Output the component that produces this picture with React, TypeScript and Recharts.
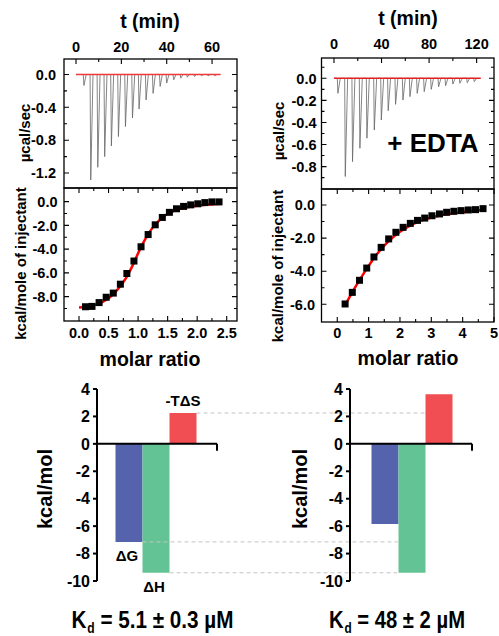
import React from 'react';
import {
  ComposedChart,
  Line,
  Scatter,
  Bar,
  Cell,
  XAxis,
  YAxis,
  ReferenceLine,
  LabelList,
} from 'recharts';

const FONT = "'Liberation Sans', Arial, Helvetica, sans-serif";

// ---- left experiment: raw heat pulses (t in min, µcal/sec peak) ----
const tlInjTime = [3.2, 6.2, 9.3, 12.35, 15.3, 18.4, 21.5, 24.6, 27.5, 30.6, 33.7, 36.8, 39.7, 42.8, 45.9, 48.8, 51.9, 55.0, 57.9, 60.9];
const tlPeak = [-0.134, -1.284, -1.13, -1.0, -0.87, -0.756, -0.634, -0.53, -0.42, -0.31, -0.23, -0.146, -0.105, -0.065, -0.045, -0.033, -0.024, -0.016, -0.016, -0.016];
const tlBaseline = [0, 63.8];

// ---- left experiment: integrated heats ----
const blRatio = [0.11, 0.22, 0.34, 0.46, 0.58, 0.7, 0.81, 0.93, 1.05, 1.17, 1.29, 1.41, 1.53, 1.65, 1.77, 1.89, 2.01, 2.13, 2.25, 2.37];
const blHeat = [-8.85, -8.82, -8.5, -8.05, -7.7, -6.95, -6.05, -5.0, -3.8, -2.77, -1.95, -1.33, -0.9, -0.6, -0.4, -0.27, -0.18, -0.08, -0.02, -0.02];
const blFitX = [0, 0.2, 0.4, 0.6, 0.7, 0.8, 0.9, 1.0, 1.1, 1.2, 1.3, 1.4, 1.5, 1.6, 1.8, 2.0, 2.2, 2.4];
const blFitY = [-8.92, -8.8, -8.45, -7.7, -7.1, -6.4, -5.45, -4.35, -3.35, -2.5, -1.88, -1.4, -1.02, -0.78, -0.5, -0.34, -0.24, -0.17];

// ---- + EDTA: raw heat pulses ----
const trInjTime = [2.8, 9.0, 15.1, 21.3, 27.2, 33.4, 39.3, 45.1, 51.3, 57.5, 63.4, 69.5, 75.4, 81.3, 87.5, 93.4, 99.5, 105.4, 111.6, 117.5];
const trPeak = [-0.136, -0.89, -0.755, -0.634, -0.543, -0.468, -0.378, -0.293, -0.236, -0.197, -0.166, -0.136, -0.121, -0.1, -0.076, -0.067, -0.052, -0.045, -0.04, -0.031];
const trBaseline = [0, 123.5];

// ---- + EDTA: integrated heats ----
const brRatio = [0.25, 0.48, 0.71, 0.94, 1.17, 1.4, 1.64, 1.87, 2.1, 2.33, 2.56, 2.79, 3.02, 3.26, 3.49, 3.72, 3.95, 4.18, 4.41, 4.65];
const brHeat = [-5.98, -5.28, -4.55, -3.81, -3.14, -2.56, -2.05, -1.65, -1.35, -1.11, -0.93, -0.79, -0.65, -0.54, -0.44, -0.38, -0.34, -0.3, -0.28, -0.22];
const brFitX = [0.25, 0.5, 0.75, 1.0, 1.25, 1.5, 1.75, 2.0, 2.25, 2.5, 2.75, 3.0, 3.5, 4.0, 4.5, 4.65];
const brFitY = [-6.05, -5.2, -4.42, -3.68, -3.0, -2.45, -2.0, -1.62, -1.32, -1.08, -0.9, -0.76, -0.56, -0.42, -0.32, -0.29];

// ---- thermodynamic signature ----
const energyNames = ['ΔG', 'ΔH', '-TΔS'];
const energyColors = ['#5563ad', '#64c394', '#f04e52'];
const leftEnergy = [-7.15, -9.4, 2.25];
const rightEnergy = [-5.85, -9.4, 3.62];
const energyTicks = [-10, -8, -6, -4, -2, 0, 2, 4];

// ---- axis ticks ----
const tlTimeTicks = [0, 10, 20, 30, 40, 50, 60];
const tlTimeMajor = [0, 20, 40, 60];
const tlRateTicks = [0, -0.2, -0.4, -0.6, -0.8, -1.0, -1.2];
const tlRateMajor = [0, -0.4, -0.8, -1.2];
const blRatioTicks = [0, 0.25, 0.5, 0.75, 1, 1.25, 1.5, 1.75, 2, 2.25, 2.5];
const blRatioMajor = [0, 0.5, 1, 1.5, 2, 2.5];
const blHeatTicks = [0, -1, -2, -3, -4, -5, -6, -7, -8, -9];
const blHeatMajor = [0, -2, -4, -6, -8];
const trTimeTicks = [0, 20, 40, 60, 80, 100, 120];
const trTimeMajor = [0, 40, 80, 120];
const trRateTicks = [0.1, 0, -0.1, -0.2, -0.3, -0.4, -0.5, -0.6, -0.7, -0.8, -0.9];
const trRateMajor = [0, -0.2, -0.4, -0.6, -0.8];
const brRatioTicks = [0, 0.5, 1, 1.5, 2, 2.5, 3, 3.5, 4, 4.5, 5];
const brRatioMajor = [0, 1, 2, 3, 4, 5];
const brHeatTicks = [0, -1, -2, -3, -4, -5, -6];
const brHeatMajor = [0, -2, -4, -6];

const traceOf = (times: number[], peaks: number[], dPeak: number, dBack: number) => {
  const pts = [{ x: 0, v: 0 }];
  times.forEach((t, i) => {
    pts.push({ x: t, v: 0 }, { x: t + dPeak, v: peaks[i] }, { x: t + dBack, v: 0 });
  });
  return pts;
};
const pairs = (xs: number[], ys: number[]) => xs.map((x, i) => ({ x, v: ys[i] }));

const tlTrace = traceOf(tlInjTime, tlPeak, 0.3, 1.3);
const tlBase = tlBaseline.map((x) => ({ x, v: 0 }));
const blPoints = pairs(blRatio, blHeat);
const blFit = pairs(blFitX, blFitY);
const trTrace = traceOf(trInjTime, trPeak, 0.5, 2.5);
const trBase = trBaseline.map((x) => ({ x, v: 0 }));
const brPoints = pairs(brRatio, brHeat);
const brFit = pairs(brFitX, brFitY);

type Side = 'left' | 'right' | 'top' | 'bottom';
const isMajor = (v: number, major: number[]) => major.some((m) => Math.abs(m - v) < 1e-6);

const tickLabel = (side: Side, major: number[], fmt: (v: number) => string, gap: number) =>
  (p: any) => {
    const x = Number(p.x);
    const y = Number(p.y);
    const v = Number(p.payload.value);
    if (!isMajor(v, major)) return <g />;
    const common = { fontSize: 14.5, fontWeight: 'bold', fill: '#000', fontFamily: FONT };
    if (side === 'left') return <text x={x - gap} y={y} dy="0.36em" textAnchor="end" {...common}>{fmt(v)}</text>;
    if (side === 'top') return <text x={x} y={y - gap} textAnchor="middle" {...common}>{fmt(v)}</text>;
    return <text x={x} y={y + gap} textAnchor="middle" {...common}>{fmt(v)}</text>;
  };

const title = (text: string, x: number, y: number, size: number, rotate = false) => () => (
  <text
    x={x}
    y={y}
    transform={rotate ? `rotate(-90 ${x} ${y})` : undefined}
    textAnchor="middle"
    dominantBaseline={rotate ? 'central' : 'auto'}
    fontSize={size}
    fontWeight="bold"
    fontFamily={FONT}
    fill="#000"
  >
    {text}
  </text>
);

const f1 = (v: number) => v.toFixed(1);
const f0 = (v: number) => v.toFixed(0);

interface PanelCfg {
  left: number;
  top: number;
  width: number;
  height: number;
  xDomain: [number, number];
  yDomain: [number, number];
  xTicks: number[];
  xMajor: number[];
  yTicks: number[];
  yMajor: number[];
  xFmt: (v: number) => string;
  yFmt: (v: number) => string;
  xSide: 'top' | 'bottom';
  xH: number;
  leftW: number;
  rightW: number;
  xGap: number;
  yGap: number;
  xTitle: () => React.ReactElement;
  yTitle: () => React.ReactElement;
  mirrorTicks: boolean;
}

const tlCfg: PanelCfg = {
  left: 0, top: 0, width: 250, height: 188,
  xDomain: [-5.3, 71], yDomain: [-1.382, 0.188],
  xTicks: tlTimeTicks, xMajor: tlTimeMajor, yTicks: tlRateTicks, yMajor: tlRateMajor,
  xFmt: f0, yFmt: f1, xSide: 'top', xH: 59, leftW: 64, rightW: 13, xGap: 7.5, yGap: 8,
  xTitle: title('t (min)', 150, 28, 19.5), yTitle: title('µcal/sec', 24, 133, 15, true),
  mirrorTicks: false,
};
const blCfg: PanelCfg = {
  left: 0, top: 188, width: 250, height: 192,
  xDomain: [-0.254, 2.674], yDomain: [-10.05, 1.15],
  xTicks: blRatioTicks, xMajor: blRatioMajor, yTicks: blHeatTicks, yMajor: blHeatMajor,
  xFmt: f1, yFmt: f1, xSide: 'bottom', xH: 59, leftW: 64, rightW: 13, xGap: 17, yGap: 6.5,
  xTitle: title('molar ratio', 150, 178, 19.5), yTitle: title('kcal/mole of injectant', 20, 75.5, 15, true),
  mirrorTicks: true,
};
const trCfg: PanelCfg = {
  left: 250, top: 0, width: 249, height: 189,
  xDomain: [-10.5, 134.6], yDomain: [-1.003, 0.184],
  xTicks: trTimeTicks, xMajor: trTimeMajor, yTicks: trRateTicks, yMajor: trRateMajor,
  xFmt: f0, yFmt: f1, xSide: 'top', xH: 58, leftW: 71.5, rightW: 5, xGap: 9.5, yGap: 5,
  xTitle: title('t (min)', 158, 25, 19.5), yTitle: title('µcal/sec', 28, 131, 15, true),
  mirrorTicks: false,
};
const brCfg: PanelCfg = {
  left: 250, top: 189, width: 249, height: 192,
  xDomain: [-0.503, 5.0], yDomain: [-7.07, 0.967],
  xTicks: brRatioTicks, xMajor: brRatioMajor, yTicks: brHeatTicks, yMajor: brHeatMajor,
  xFmt: f0, yFmt: f1, xSide: 'bottom', xH: 59, leftW: 71.5, rightW: 5, xGap: 16, yGap: 6.5,
  xTitle: title('molar ratio', 158, 176, 19.5), yTitle: title('kcal/mole of injectant', 27.5, 77, 15, true),
  mirrorTicks: true,
};
const panels = [tlCfg, blCfg, trCfg, brCfg];

const axesOf = (c: PanelCfg) => [
  <XAxis key="x" orientation={c.xSide} height={c.xH} type="number" dataKey="x" domain={c.xDomain}
    ticks={c.xTicks} interval={0} allowDataOverflow tickSize={0} tickMargin={0} tickLine={false}
    axisLine={false} tick={tickLabel(c.xSide, c.xMajor, c.xFmt, c.xGap)} label={c.xTitle} />,
  <YAxis key="y" orientation="left" width={c.leftW} type="number" dataKey="v" domain={c.yDomain}
    ticks={c.yTicks} interval={0} allowDataOverflow tickSize={0} tickMargin={0} tickLine={false}
    axisLine={false} tick={tickLabel('left', c.yMajor, c.yFmt, c.yGap)} label={c.yTitle} />,
];

// plot box with inward ticks on all sides, placed over each panel's plot area
const PanelFrame = ({ c }: { c: PanelCfg }) => {
  const x0 = c.left + c.leftW;
  const x1 = c.left + c.width - c.rightW;
  const y0 = c.top + (c.xSide === 'top' ? c.xH : 0);
  const y1 = c.top + c.height - (c.xSide === 'bottom' ? c.xH : 0);
  const sx = (t: number) => x0 + ((t - c.xDomain[0]) / (c.xDomain[1] - c.xDomain[0])) * (x1 - x0);
  const sy = (v: number) => y1 - ((v - c.yDomain[0]) / (c.yDomain[1] - c.yDomain[0])) * (y1 - y0);
  const segs: string[] = [];
  c.yTicks.forEach((v) => {
    const len = isMajor(v, c.yMajor) ? 5 : 3;
    const y = sy(v);
    segs.push(`M${x0},${y}L${x0 + len},${y}`, `M${x1},${y}L${x1 - len},${y}`);
  });
  c.xTicks.forEach((t) => {
    const len = isMajor(t, c.xMajor) ? 5 : 3;
    const x = sx(t);
    if (c.xSide === 'top' || c.mirrorTicks) segs.push(`M${x},${y0}L${x},${y0 + len}`);
    if (c.xSide === 'bottom' || c.mirrorTicks) segs.push(`M${x},${y1}L${x},${y1 - len}`);
  });
  return (
    <g>
      <rect x={x0} y={y0} width={x1 - x0} height={y1 - y0} fill="none" stroke="#000" strokeWidth={1.3} />
      <path d={segs.join('')} stroke="#000" strokeWidth={1.1} fill="none" />
    </g>
  );
};

const SquareDot = (p: any) => (
  <rect x={p.cx - 3.5} y={p.cy - 3.5} width={7} height={7} fill="#000" />
);

const energyData = (vals: number[]) => vals.map((v, i) => ({ x: i + 1, v, name: energyNames[i] }));
const leftBars = energyData(leftEnergy);
const rightBars = energyData(rightEnergy);

// x positions (in left-panel bar units) where the guide lines stop under the right panel
const guideEnds = [10.96, 10.93, 12.5];

const energyLabel = (p: any) => {
  const { x, y, width, height, index } = p;
  const v = leftEnergy[index];
  const top = Math.min(y, y + height);
  const bottom = Math.max(y, y + height);
  const cx = x + width / 2;
  return (
    <text
      x={v < 0 ? cx - 2 : cx}
      y={v < 0 ? bottom + 19.5 : top - 7}
      textAnchor="middle"
      fontSize={15}
      fontWeight="bold"
      fontFamily={FONT}
      fill="#000"
    >
      {energyNames[index]}
    </text>
  );
};

// zero line with the short downward tick at its right end
const zeroLine = (p: any) => {
  const x1 = Number(p.x1), x2 = Number(p.x2), y = Number(p.y1);
  const xr = Math.max(x1, x2);
  return (
    <g>
      <path d={`M${Math.min(x1, x2)},${y}L${xr},${y}`} stroke="#000" strokeWidth={2} fill="none" />
      <path d={`M${xr},${y}L${xr},${y + 7}`} stroke="#000" strokeWidth={2} fill="none" />
    </g>
  );
};

const energyYAxis = (width: number, tx: number) => (
  <YAxis
    type="number"
    domain={[-10, 4]}
    ticks={energyTicks}
    interval={0}
    width={width}
    allowDataOverflow
    tickSize={4}
    tickMargin={3}
    tick={{ fontSize: 16, fontWeight: 'bold', fill: '#000', fontFamily: FONT }}
    axisLine={{ stroke: '#000', strokeWidth: 2 }}
    tickLine={{ stroke: '#000', strokeWidth: 2 }}
    label={title('kcal/mol', tx, 119, 20, true)}
  />
);

const freeText = { position: 'absolute' as const, pointerEvents: 'none' as const };
const at = (c: PanelCfg) => ({ position: 'absolute' as const, left: c.left, top: c.top });
const panelMargin = (c: PanelCfg) => ({ top: 0, right: c.rightW, bottom: 0, left: 0 });

export default function App() {
  return (
    <div style={{ position: 'absolute', left: 0, top: 0, width: 499, height: 636, background: '#fff' }}>
      <style>{'.recharts-surface{overflow:visible}'}</style>

      {/* energy bars, no EDTA (guide lines run across to the right panel) */}
      <div style={{ position: 'absolute', left: 0, top: 370 }}>
        <ComposedChart width={499} height={230} data={leftBars} margin={{ top: 19, right: 282, bottom: 19, left: 0 }}>
          <XAxis type="number" dataKey="x" domain={[-0.185, 4.259]} ticks={[1, 2, 3]} hide allowDataOverflow />
          {energyYAxis(97, 45)}
          {leftEnergy.map((v, i) => (
            <ReferenceLine key={i} ifOverflow="visible" stroke="#c4c4c4" strokeDasharray="4 3" strokeWidth={1}
              segment={[{ x: i + 1.5, y: v }, { x: guideEnds[i], y: v }]} />
          ))}
          <Bar dataKey="v" barSize={27} isAnimationActive={false}>
            {leftBars.map((d, i) => <Cell key={d.name} fill={energyColors[i]} />)}
            <LabelList dataKey="name" content={energyLabel} />
          </Bar>
          <ReferenceLine y={0} shape={zeroLine} />
        </ComposedChart>
      </div>

      {/* energy bars, + EDTA */}
      <div style={{ position: 'absolute', left: 0, top: 370 }}>
        <ComposedChart width={499} height={230} data={rightBars} margin={{ top: 19, right: 27, bottom: 19, left: 0 }}>
          <XAxis type="number" dataKey="x" domain={[-0.296, 4.222]} ticks={[1, 2, 3]} hide allowDataOverflow />
          {energyYAxis(350, 300)}
          <Bar dataKey="v" barSize={27} isAnimationActive={false}>
            {rightBars.map((d, i) => <Cell key={d.name} fill={energyColors[i]} />)}
          </Bar>
          <ReferenceLine y={0} shape={zeroLine} />
        </ComposedChart>
      </div>

      <svg width={240} height={36} style={{ ...freeText, left: 32, top: 600 }}>
        <text x={120.5} y={28} textAnchor="middle" fontSize={24} fontWeight="bold" fontFamily={FONT} fill="#000"
          textLength={162} lengthAdjust="spacingAndGlyphs">
          K<tspan dx={1} dy={5} fontSize={14}>d</tspan><tspan dy={-5}> = 5.1 ± 0.3 µM</tspan>
        </text>
      </svg>
      <svg width={220} height={36} style={{ ...freeText, left: 287, top: 600 }}>
        <text x={110} y={28} textAnchor="middle" fontSize={24} fontWeight="bold" fontFamily={FONT} fill="#000"
          textLength={136} lengthAdjust="spacingAndGlyphs">
          K<tspan dx={1} dy={5} fontSize={14}>d</tspan><tspan dy={-5}> = 48 ± 2 µM</tspan>
        </text>
      </svg>

      {/* raw data, no EDTA */}
      <div style={at(tlCfg)}>
        <ComposedChart width={tlCfg.width} height={tlCfg.height} margin={panelMargin(tlCfg)}>
          {axesOf(tlCfg)}
          <Line data={tlTrace} dataKey="v" stroke="#666" strokeWidth={0.8}
            dot={false} type="linear" isAnimationActive={false} />
          <Line data={tlBase} dataKey="v" stroke="#ee3a3a" strokeWidth={1.6}
            dot={false} type="linear" isAnimationActive={false} />
        </ComposedChart>
      </div>

      {/* integrated heats, no EDTA */}
      <div style={at(blCfg)}>
        <ComposedChart width={blCfg.width} height={blCfg.height} margin={panelMargin(blCfg)}>
          {axesOf(blCfg)}
          <Scatter data={blPoints} dataKey="v" shape={SquareDot} isAnimationActive={false} />
          <Line data={blFit} dataKey="v" stroke="#ff0000" strokeWidth={2.5}
            dot={false} type="monotone" isAnimationActive={false} />
        </ComposedChart>
      </div>

      {/* raw data, + EDTA */}
      <div style={at(trCfg)}>
        <ComposedChart width={trCfg.width} height={trCfg.height} margin={panelMargin(trCfg)}>
          {axesOf(trCfg)}
          <Line data={trTrace} dataKey="v" stroke="#666" strokeWidth={0.8}
            dot={false} type="linear" isAnimationActive={false} />
          <Line data={trBase} dataKey="v" stroke="#e61e1e" strokeWidth={1.4}
            dot={false} type="linear" isAnimationActive={false} />
        </ComposedChart>
      </div>

      {/* integrated heats, + EDTA */}
      <div style={at(brCfg)}>
        <ComposedChart width={brCfg.width} height={brCfg.height} margin={panelMargin(brCfg)}>
          {axesOf(brCfg)}
          <Scatter data={brPoints} dataKey="v" shape={SquareDot} isAnimationActive={false} />
          <Line data={brFit} dataKey="v" stroke="#ff0000" strokeWidth={2.5}
            dot={false} type="monotone" isAnimationActive={false} />
        </ComposedChart>
      </div>

      {/* panel frames */}
      <svg width={499} height={382} style={{ ...freeText, left: 0, top: 0 }}>
        {panels.map((c, i) => <PanelFrame key={i} c={c} />)}
      </svg>

      <svg width={110} height={40} style={{ ...freeText, left: 378, top: 122 }}>
        <text x={55} y={30} textAnchor="middle" fontSize={26} fontWeight="bold" fontFamily={FONT} fill="#000">
          + EDTA
        </text>
      </svg>
    </div>
  );
}
